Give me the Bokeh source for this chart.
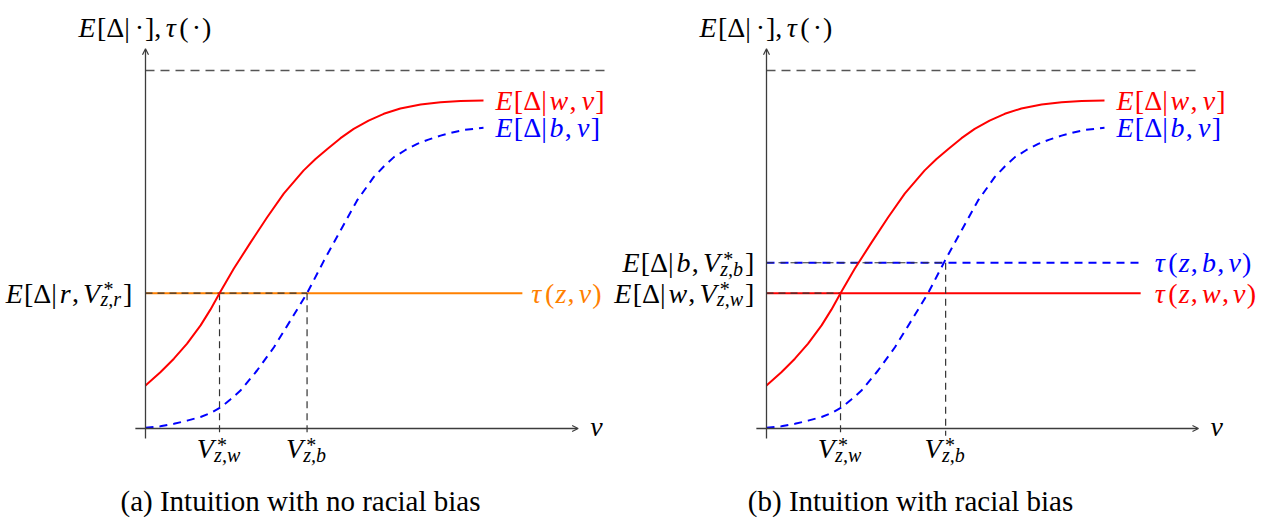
from bokeh.plotting import figure
from bokeh.layouts import row
from bokeh.models import ColumnDataSource, Arrow, OpenHead
from bokeh.core.properties import value
from bokeh.embed import file_html
from bokeh.resources import INLINE

# ---------------- data ----------------
# expected reward curves E[Δ|r, v] (x = v, y = E[Δ|·]); same curves in both panels
v_white = [0.00, 0.44, 0.84, 1.23, 1.63, 1.92, 2.19, 2.61, 3.11, 3.60, 4.09, 4.68, 5.03, 5.38,
           5.77, 6.16, 6.60, 7.05, 7.54, 8.14, 8.73, 9.32, 10.00]
e_white = [1.20, 1.57, 1.95, 2.37, 2.88, 3.32, 3.78, 4.46, 5.20, 5.90, 6.56, 7.21, 7.53, 7.81,
           8.11, 8.37, 8.60, 8.79, 8.94, 9.05, 9.11, 9.15, 9.16]
v_black = [0.00, 0.44, 0.84, 1.23, 1.63, 1.92, 2.22, 2.51, 2.81, 3.30, 3.80, 4.29, 4.78, 5.28,
           5.77, 6.26, 6.75, 7.05, 7.35, 7.69, 8.04, 8.37, 8.73, 9.08, 9.42, 10.00]
e_black = [0.02, 0.06, 0.13, 0.22, 0.32, 0.43, 0.59, 0.81, 1.06, 1.62, 2.27, 3.02, 3.78, 4.69,
           5.53, 6.37, 7.02, 7.32, 7.58, 7.78, 7.95, 8.07, 8.18, 8.27, 8.34, 8.40]

ceiling = 10.0                 # upper dashed bound
axis_x_end = [12.8, 12.78]     # v axis length (panel a, panel b)
axis_y_end = 10.61
ceiling_end = [13.6, 12.84]

# panel (a): common threshold
tau_a = 3.78
tau_a_end = 11.15
vstar_a = [2.19, 4.78]         # V*_{z,w}, V*_{z,b}

# panel (b): race-specific thresholds
tau_w_b = 3.78
tau_b_b = 4.63
tau_b_end = 11.07
vstar_b = [2.19, 5.30]

captions = ["(a) Intuition with no racial bias", "(b) Intuition with racial bias"]

# ---------------- styling ----------------
FONT = "Liberation Serif"
MAIN = 28
SCRIPT = 20
CAP = 29
TRACK = 1.2
RED = "#ff0000"
BLUE = "#0000ff"
ORANGE = "#ff8000"
AXIS = "#3c3c3c"
GUIDE = "#333333"

PXX = 33.8   # px per v unit
PXY = 35.8   # px per E unit
H = 518
AX_BOTTOM = 90

ROM = {'[': 333, ']': 333, 'Δ': 617, '|': 200, ',': 250, '(': 333, ')': 333,
       '·': 250, '*': 500, ' ': 250}
ITA = {'E': 611, 'V': 611, 'w': 667, 'v': 444, 'b': 500, 'r': 389, 'z': 389,
       'τ': 440, ',': 250}


def seg_width(kind, s, size):
    tab = ROM if kind == 'r' else ITA
    return sum(tab.get(c, 500) for c in s) * size / 1000.0


def put_text(p, x, y, s, ox, oy, style, size, color, align='left'):
    src = ColumnDataSource(dict(x=[x], y=[y], text=[s]))
    p.text(x='x', y='y', text='text', source=src,
           x_offset=ox, y_offset=oy,
           text_font=value(FONT), text_font_style=style,
           text_font_size=f"{size}px", text_color=color,
           text_align=align, text_baseline='middle')


def math_text(p, x, y, segs, color="#000000", align="left", dx=0.0, dy=0.0):
    pieces = []
    cx = 0.0
    for seg in segs:
        if seg[0] == 'g':
            cx += seg[1]
        elif seg[0] == 'ss':
            sup, sub = seg[1], seg[2]
            pieces.append((cx + 2, -4, sup, 'normal', SCRIPT))
            pieces.append((cx - 1, 6, sub, 'italic', SCRIPT))
            cx += max(seg_width('r', sup, SCRIPT) + 2, seg_width('i', sub, SCRIPT) - 1) + 2
        else:
            kind, s = seg
            pieces.append((cx, 0, s, 'italic' if kind == 'i' else 'normal', MAIN))
            cx += seg_width(kind, s, MAIN) + TRACK * len(s)
    shift = {'left': 0.0, 'right': -cx, 'center': -cx / 2.0}[align] + dx
    for ox, oy, s, style, size in pieces:
        put_text(p, x, y, s, ox + shift, oy + dy, style, size, color)


def make_fig(width, ax_left):
    p = figure(width=width, height=H, output_backend="svg", toolbar_location=None,
               x_range=(-ax_left / PXX, (width - ax_left) / PXX),
               y_range=(-AX_BOTTOM / PXY, (H - AX_BOTTOM) / PXY),
               min_border=0, min_border_left=0, min_border_right=0,
               min_border_top=0, min_border_bottom=0)
    p.axis.visible = False
    p.grid.visible = False
    p.outline_line_color = None
    p.background_fill_color = "white"
    p.border_fill_color = "white"
    return p


def axes(p, xend):
    p.add_layout(Arrow(end=OpenHead(size=6, line_width=1.2, line_color=AXIS),
                       x_start=-0.3, y_start=0, x_end=xend, y_end=0,
                       line_color=AXIS, line_width=1.3))
    p.add_layout(Arrow(end=OpenHead(size=6, line_width=1.2, line_color=AXIS),
                       x_start=0, y_start=-0.28, x_end=0, y_end=axis_y_end,
                       line_color=AXIS, line_width=1.3))
    math_text(p, 0, axis_y_end,
              [('i', 'E'), ('r', '[Δ|'), ('g', 2), ('r', '·'), ('g', 2), ('r', '],'), ('g', 2),
               ('i', 'τ'), ('r', '('), ('g', 2), ('r', '·'), ('g', 2), ('r', ')')],
              align='center', dy=-21)
    math_text(p, xend, 0, [('i', 'v')], dx=12, dy=-2)


def curves(p):
    p.line(v_white, e_white, line_color=RED, line_width=2)
    p.line(v_black, e_black, line_color=BLUE, line_width=2, line_dash="8 6")
    math_text(p, v_white[-1], e_white[-1],
              [('i', 'E'), ('r', '[Δ|'), ('i', 'w'), ('r', ','), ('g', 4), ('i', 'v'), ('r', ']')],
              color=RED, dx=12, dy=0)
    math_text(p, v_black[-1], e_black[-1],
              [('i', 'E'), ('r', '[Δ|'), ('i', 'b'), ('r', ','), ('g', 4), ('i', 'v'), ('r', ']')],
              color=BLUE, dx=12, dy=0)


def vstar_label(p, xv, grp):
    math_text(p, xv, 0, [('i', 'V'), ('ss', '*', 'z,' + grp)], align='center', dy=20)


# ---------------- panel (a) ----------------
pa = make_fig(612, 145)
pa.line([0, ceiling_end[0]], [ceiling, ceiling], line_color="#555555", line_width=1.3, line_dash="9 6")
axes(pa, axis_x_end[0])
pa.line([0, tau_a_end], [tau_a, tau_a], line_color=ORANGE, line_width=2)
pa.line([0, vstar_a[1]], [tau_a, tau_a], line_color=GUIDE, line_width=1.2, line_dash="7 5")
for xv in vstar_a:
    pa.line([xv, xv], [tau_a, -0.2], line_color=GUIDE, line_width=1.2, line_dash="7 5")
curves(pa)
math_text(pa, tau_a_end, tau_a,
          [('i', 'τ'), ('r', '('), ('i', 'z'), ('r', ','), ('g', 3), ('i', 'v'), ('r', ')')],
          color=ORANGE, dx=9, dy=0)
math_text(pa, 0, tau_a,
          [('i', 'E'), ('r', '[Δ|'), ('i', 'r'), ('r', ','), ('g', 3), ('i', 'V'), ('ss', '*', 'z,r'), ('r', ']')],
          align='right', dx=-12, dy=0)
vstar_label(pa, vstar_a[0], 'w')
vstar_label(pa, vstar_a[1], 'b')
put_text(pa, 0, 0, captions[0], 155, 72, 'normal', CAP, "#000000", align='center')

# ---------------- panel (b) ----------------
pb = make_fig(650, 154)
pb.line([0, ceiling_end[1]], [ceiling, ceiling], line_color="#555555", line_width=1.3, line_dash="9 6")
axes(pb, axis_x_end[1])
pb.line([0, tau_b_end], [tau_w_b, tau_w_b], line_color=RED, line_width=2)
pb.line([0, tau_b_end], [tau_b_b, tau_b_b], line_color=BLUE, line_width=2, line_dash="8 6")
pb.line([0, vstar_b[0]], [tau_w_b, tau_w_b], line_color=GUIDE, line_width=1.2, line_dash="7 5")
pb.line([0, vstar_b[1]], [tau_b_b, tau_b_b], line_color=GUIDE, line_width=1.2, line_dash="7 5")
pb.line([vstar_b[0], vstar_b[0]], [tau_w_b, -0.2], line_color=GUIDE, line_width=1.2, line_dash="7 5")
pb.line([vstar_b[1], vstar_b[1]], [tau_b_b, -0.2], line_color=GUIDE, line_width=1.2, line_dash="7 5")
curves(pb)
math_text(pb, tau_b_end, tau_b_b,
          [('i', 'τ'), ('r', '('), ('i', 'z'), ('r', ','), ('g', 3), ('i', 'b'), ('r', ','), ('g', 3),
           ('i', 'v'), ('r', ')')], color=BLUE, dx=14, dy=0)
math_text(pb, tau_b_end, tau_w_b,
          [('i', 'τ'), ('r', '('), ('i', 'z'), ('r', ','), ('g', 3), ('i', 'w'), ('r', ','), ('g', 3),
           ('i', 'v'), ('r', ')')], color=RED, dx=14, dy=0)
math_text(pb, 0, tau_b_b,
          [('i', 'E'), ('r', '[Δ|'), ('i', 'b'), ('r', ','), ('g', 3), ('i', 'V'), ('ss', '*', 'z,b'), ('r', ']')],
          align='right', dx=-11, dy=0)
math_text(pb, 0, tau_w_b,
          [('i', 'E'), ('r', '[Δ|'), ('i', 'w'), ('r', ','), ('g', 3), ('i', 'V'), ('ss', '*', 'z,w'), ('r', ']')],
          align='right', dx=-11, dy=0)
vstar_label(pb, vstar_b[0], 'w')
vstar_label(pb, vstar_b[1], 'b')
put_text(pb, 0, 0, captions[1], 144, 72, 'normal', CAP, "#000000", align='center')

layout = row(pa, pb)
open("out.html", "w").write(file_html(layout, INLINE))
